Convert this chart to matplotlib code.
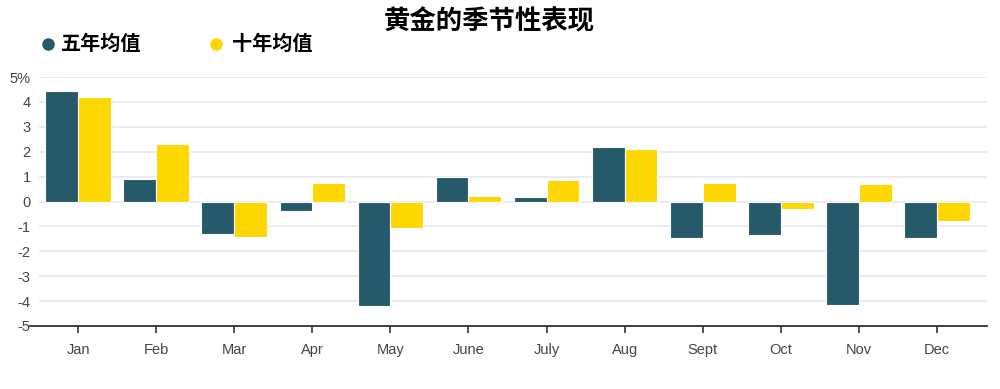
import matplotlib

matplotlib.use("Agg")
import matplotlib.pyplot as plt
import numpy as np
from matplotlib.lines import Line2D

plt.rcParams["font.family"] = ["Liberation Sans", "Noto Sans CJK SC", "DejaVu Sans"]

months = ["Jan", "Feb", "Mar", "Apr", "May", "June", "July", "Aug", "Sept", "Oct", "Nov", "Dec"]
five_year = [4.43, 0.91, -1.29, -0.39, -4.20, 0.99, 0.19, 2.20, -1.46, -1.33, -4.15, -1.46]
ten_year = [4.20, 2.29, -1.42, 0.76, -1.06, 0.23, 0.86, 2.12, 0.76, -0.31, 0.72, -0.80]
series_names = ["五年均值", "十年均值"]
yticks = [-5, -4, -3, -2, -1, 0, 1, 2, 3, 4, 5]
ytick_labels = ["-5", "-4", "-3", "-2", "-1", "0", "1", "2", "3", "4", "5%"]

five_color = "#265a6b"
ten_color = "#ffd700"
cjk = ["Noto Sans CJK SC", "DejaVu Sans"]

fig = plt.figure(figsize=(10, 3.89), dpi=100)
ax = fig.add_axes([0.039, 0.162, 0.948, 0.640])

x = np.arange(len(months))
w = 0.42
ax.bar(x - w / 2, five_year, width=w, color=five_color, edgecolor="white", linewidth=0.8, zorder=3)
ax.bar(x + w / 2, ten_year, width=w, color=ten_color, edgecolor="white", linewidth=0.8, zorder=3)

ax.set_xlim(-0.5, 11.64)
ax.set_ylim(-5, 5)
ax.set_yticks(yticks)
ax.set_yticklabels(ytick_labels)
ax.set_xticks(x)
ax.set_xticklabels(months)
ax.yaxis.grid(True, color="#e6e9ee", linewidth=1.2, zorder=0)
ax.set_axisbelow(True)

for side in ["top", "right", "left"]:
    ax.spines[side].set_visible(False)
ax.spines["bottom"].set_color("#333333")
ax.spines["bottom"].set_linewidth(1.3)
ax.spines["bottom"].set_bounds(-0.615, 11.64)  # axis line runs a bit left of the grid
ax.tick_params(axis="y", length=0, pad=6, labelsize=10.5, labelcolor="#444444")
ax.tick_params(axis="x", length=5, width=1.2, color="#333333", pad=7, labelsize=10.5, labelcolor="#444444")

fig.text(0.489, 0.943, "黄金的季节性表现", ha="center", va="center", fontsize=19,
         fontweight="bold", family=cjk)

# legend drawn by hand to match the original placement
legend_y = 0.888
for name, color, mx, tx in [(series_names[0], five_color, 0.048, 0.061),
                            (series_names[1], ten_color, 0.2155, 0.232)]:
    fig.add_artist(Line2D([mx], [legend_y], marker="o", markersize=8, color=color,
                          linestyle="none", transform=fig.transFigure))
    fig.text(tx, legend_y, name, ha="left", va="center", fontsize=14.5,
             fontweight="bold", family=cjk)

fig.savefig("out.png", dpi=100)
